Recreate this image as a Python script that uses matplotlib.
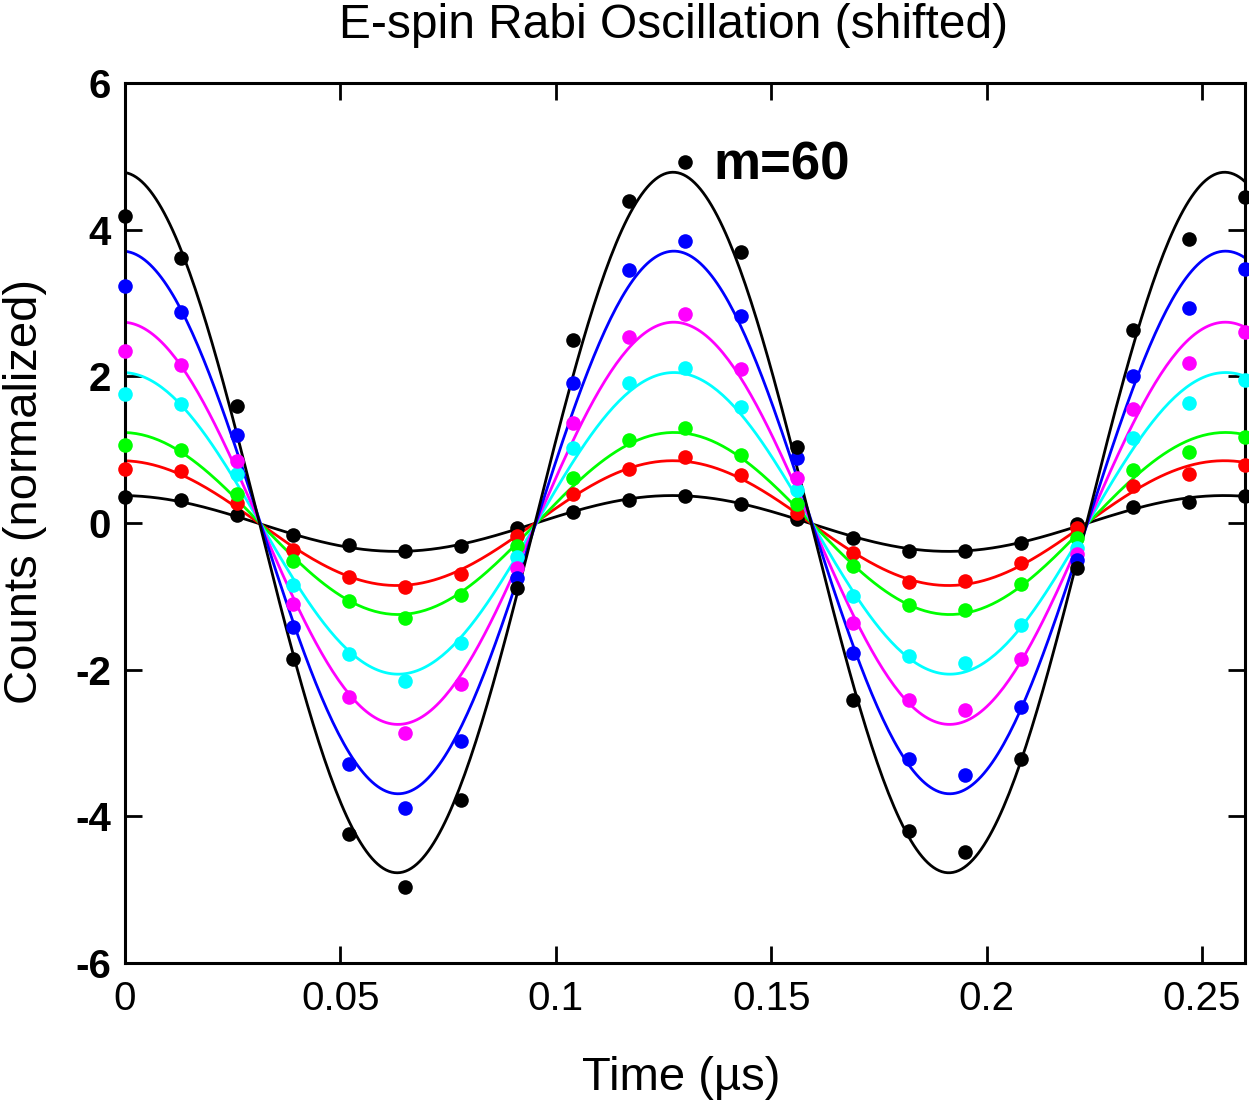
import numpy as np
import matplotlib
matplotlib.use("Agg")
import matplotlib.pyplot as plt

# sample times (us)
time_us = [0.000, 0.013, 0.026, 0.039, 0.052, 0.065, 0.078, 0.091, 0.104, 0.117, 0.130,
           0.143, 0.156, 0.169, 0.182, 0.195, 0.208, 0.221, 0.234, 0.247, 0.260]

# normalized counts per series
counts_m60 = [4.19, 3.62, 1.59, -1.85, -4.24, -4.97, -3.78, -0.89, 2.50, 4.39, 4.92,
              3.70, 1.03, -2.41, -4.20, -4.49, -3.22, -0.61, 2.63, 3.87, 4.44]
counts_blue = [3.23, 2.88, 1.20, -1.42, -3.29, -3.89, -2.97, -0.75, 1.91, 3.45, 3.84,
               2.82, 0.88, -1.77, -3.22, -3.43, -2.51, -0.50, 2.01, 2.93, 3.47]
counts_magenta = [2.35, 2.15, 0.85, -1.11, -2.37, -2.86, -2.20, -0.61, 1.37, 2.53, 2.85,
                  2.10, 0.61, -1.36, -2.41, -2.55, -1.85, -0.42, 1.56, 2.18, 2.60]
counts_cyan = [1.76, 1.62, 0.67, -0.85, -1.78, -2.16, -1.64, -0.46, 1.02, 1.91, 2.11,
               1.58, 0.45, -1.00, -1.81, -1.91, -1.39, -0.34, 1.16, 1.63, 1.95]
counts_green = [1.06, 0.99, 0.40, -0.52, -1.07, -1.29, -0.98, -0.31, 0.61, 1.13, 1.29,
                0.93, 0.26, -0.59, -1.12, -1.18, -0.83, -0.20, 0.72, 0.97, 1.17]
counts_red = [0.74, 0.71, 0.27, -0.37, -0.73, -0.87, -0.70, -0.18, 0.40, 0.74, 0.90,
              0.65, 0.14, -0.41, -0.80, -0.79, -0.54, -0.07, 0.50, 0.67, 0.79]
counts_low = [0.36, 0.32, 0.11, -0.17, -0.30, -0.38, -0.31, -0.07, 0.15, 0.32, 0.37,
              0.26, 0.06, -0.20, -0.38, -0.38, -0.27, -0.02, 0.22, 0.29, 0.37]

series = [
    (counts_low, "black"),
    (counts_red, "red"),
    (counts_green, "lime"),
    (counts_cyan, "cyan"),
    (counts_magenta, "magenta"),
    (counts_blue, "blue"),
    (counts_m60, "black"),
]


def _design(t, period):
    w = 2 * np.pi / period
    return np.column_stack([np.cos(w * t), np.sin(w * t), np.ones_like(t)])


def _best_period(t, ys):
    # shared Rabi period: least-squares grid search over all series
    periods = np.linspace(0.118, 0.136, 361)
    resid = []
    for p in periods:
        A = _design(t, p)
        r = 0.0
        for y in ys:
            coef, *_ = np.linalg.lstsq(A, y, rcond=None)
            r += np.sum((A @ coef - y) ** 2)
        resid.append(r)
    return periods[int(np.argmin(resid))]


t = np.asarray(time_us)
ys = [np.asarray(s[0]) for s in series]
period = _best_period(t, ys)
t_fine = np.linspace(0, 0.26, 400)

plt.rcParams["font.family"] = ["Liberation Sans", "DejaVu Sans"]
plt.rcParams["axes.unicode_minus"] = False

fig = plt.figure(figsize=(12.49, 11.04), dpi=100)
ax = fig.add_axes([125 / 1249, 1 - 963 / 1104, 1120 / 1249, 880 / 1104])

for (vals, color), y in zip(series, ys):
    coef, *_ = np.linalg.lstsq(_design(t, period), y, rcond=None)
    ax.plot(t_fine, _design(t_fine, period) @ coef, color=color, linewidth=2.0, zorder=2)
    ax.plot(t, y, "o", color=color, markersize=10.5, markeredgewidth=0,
            clip_on=False, zorder=3)

ax.text(0.1365, 4.88, "m=60", fontsize=38, fontweight="bold", va="center", ha="left")

ax.set_xlim(0, 0.26)
ax.set_ylim(-6, 6)
ax.set_xticks([0, 0.05, 0.1, 0.15, 0.2, 0.25])
ax.set_xticklabels(["0", "0.05", "0.1", "0.15", "0.2", "0.25"], fontsize=29)
ax.set_yticks([-6, -4, -2, 0, 2, 4, 6])
ax.set_yticklabels(["-6", "-4", "-2", "0", "2", "4", "6"], fontsize=29, fontweight="bold")
ax.tick_params(direction="in", length=12, width=2, top=True, right=True)
ax.tick_params(axis="x", pad=12)
ax.tick_params(axis="y", pad=10)
for sp in ax.spines.values():
    sp.set_linewidth(2.2)

fig.text(674 / 1249, 1 - 25 / 1104, "E-spin Rabi Oscillation (shifted)",
         fontsize=34.5, ha="center", va="center")
fig.text(681 / 1249, 1 - 1078 / 1104, "Time (\u00b5s)", fontsize=34, ha="center", va="center")
fig.text(25 / 1249, 1 - 491 / 1104, "Counts (normalized)", fontsize=34, ha="center",
         va="center", rotation=90)

fig.savefig("out.png", dpi=100)
